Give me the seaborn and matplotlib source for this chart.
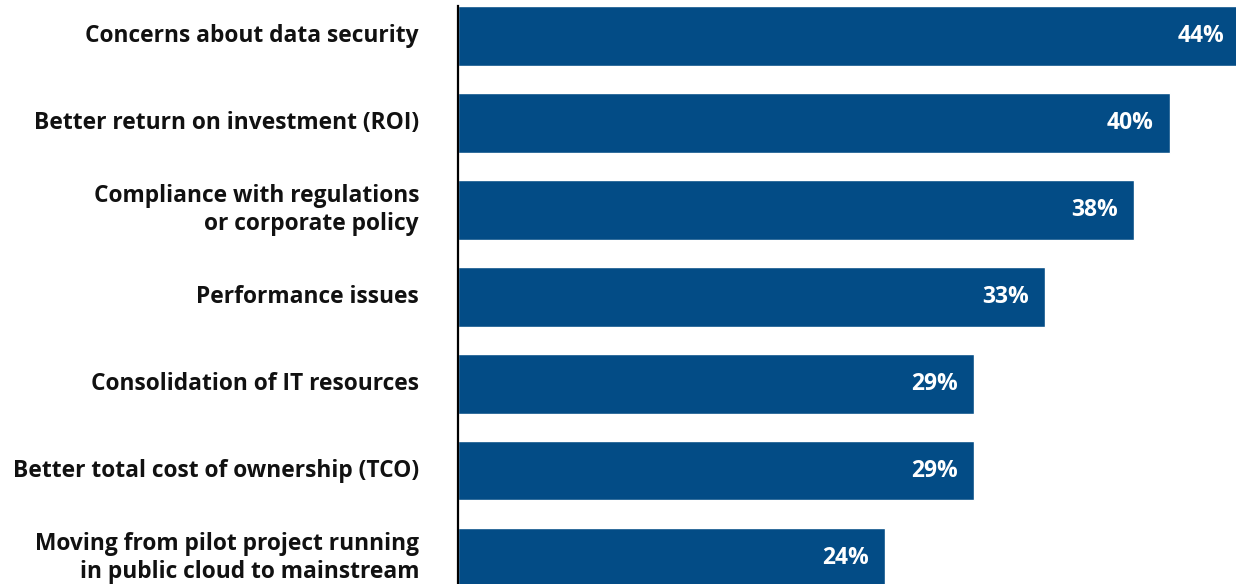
import matplotlib
matplotlib.use("Agg")
import matplotlib.pyplot as plt
import seaborn as sns
import pandas as pd

# Dados do gráfico
motivos = [
    "Concerns about data security",
    "Better return on investment (ROI)",
    "Compliance with regulations\nor corporate policy",
    "Performance issues",
    "Consolidation of IT resources",
    "Better total cost of ownership (TCO)",
    "Moving from pilot project running\nin public cloud to mainstream",
]
percentuais = [44, 40, 38, 33, 29, 29, 24]

df = pd.DataFrame({"motivo": motivos, "pct": percentuais})

sns.set_theme(style="white")
plt.rcParams["font.family"] = ["Open Sans", "DejaVu Sans"]

fig = plt.figure(figsize=(12.36, 5.84), dpi=100)
ax = fig.add_axes([458 / 1236, 0, 1 - 458 / 1236, 1 - 6 / 584])

azul = "#034C86"
sns.barplot(data=df, x="pct", y="motivo", color=azul, saturation=1,
            width=0.68, ax=ax, orient="h")

# Limites para reproduzir o recorte da imagem
ax.set_xlim(0, (1236 - 458) / 17.8)
ax.set_ylim(6.30, -0.345)

# Rótulos de valor dentro das barras
for i, v in enumerate(percentuais):
    ax.annotate(f"{v}%", xy=(v, i), xytext=(-12, 0), textcoords="offset points",
                ha="right", va="center", color="white", fontsize=16.5,
                fontweight="bold", annotation_clip=False)

ax.set_xlabel("")
ax.set_ylabel("")
ax.set_xticks([])
ax.tick_params(axis="y", length=0, pad=28)
for lbl in ax.get_yticklabels():
    lbl.set_fontsize(16.4)
    lbl.set_fontweight("bold")
    lbl.set_color("#111111")
    lbl.set_linespacing(1.25)
    lbl.set_verticalalignment("center")

for lado in ["top", "right", "bottom"]:
    ax.spines[lado].set_visible(False)
ax.spines["left"].set_color("black")
ax.spines["left"].set_linewidth(1.6)

fig.savefig("out.png", dpi=100)
